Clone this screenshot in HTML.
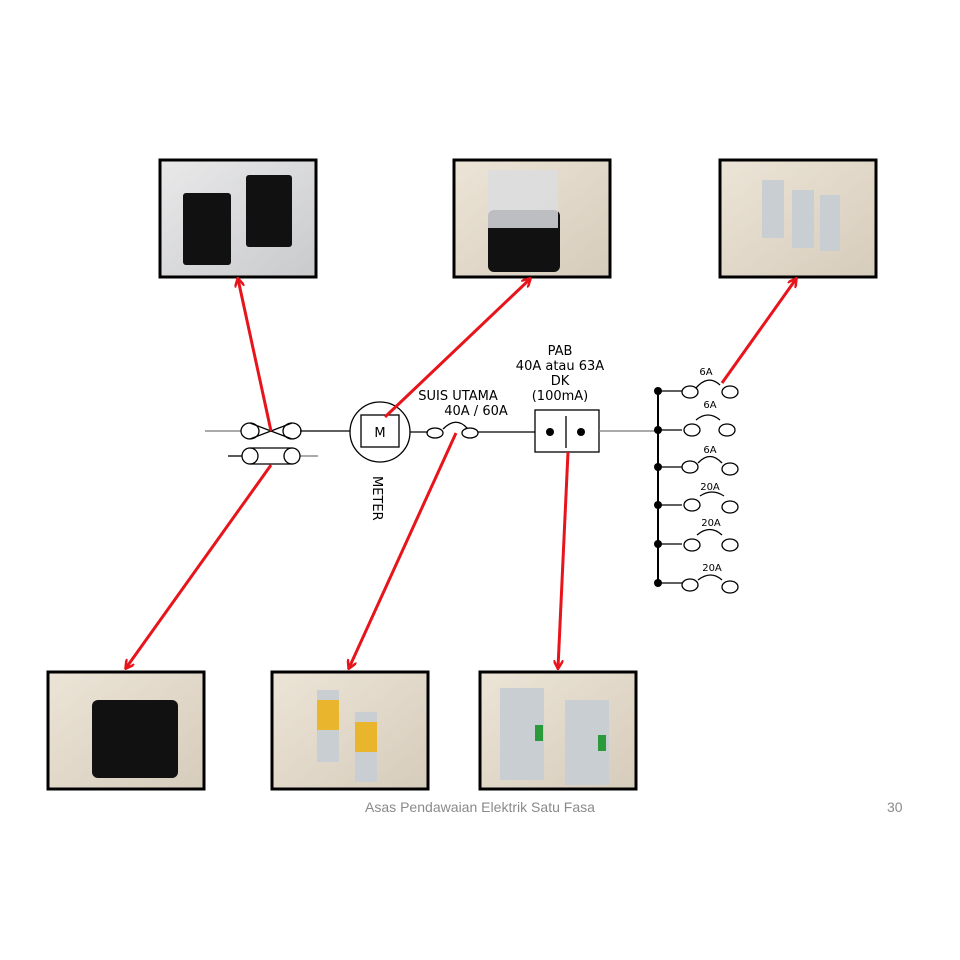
<!DOCTYPE html>
<html><head><meta charset="utf-8"><style>body{margin:0;background:#fff}svg{display:block}</style></head><body>
<svg width="960" height="960" viewBox="0 0 960 960" xmlns="http://www.w3.org/2000/svg" font-family="'DejaVu Sans','Liberation Sans',sans-serif">
<defs>
<marker id="ah" markerWidth="10" markerHeight="10" refX="8" refY="5" orient="auto" markerUnits="userSpaceOnUse"><path d="M0,0 L9,5 L0,10" fill="none" stroke="#e8141b" stroke-width="2.5"/></marker>
<linearGradient id="g1" x1="0" y1="0" x2="1" y2="1"><stop offset="0" stop-color="#e9e9ea"/><stop offset="1" stop-color="#c9cacc"/></linearGradient>
<linearGradient id="g2" x1="0" y1="0" x2="1" y2="1"><stop offset="0" stop-color="#ece4d6"/><stop offset="1" stop-color="#d6ccbc"/></linearGradient>
</defs>
<g stroke="#000" stroke-width="3">
<rect x="160" y="160" width="156" height="117" fill="url(#g1)"/>
<rect x="454" y="160" width="156" height="117" fill="url(#g2)"/>
<rect x="720" y="160" width="156" height="117" fill="url(#g2)"/>
<rect x="48" y="672" width="156" height="117" fill="url(#g2)"/>
<rect x="272" y="672" width="156" height="117" fill="url(#g2)"/>
<rect x="480" y="672" width="156" height="117" fill="url(#g2)"/>
</g>
<g fill="#111">
<rect x="183" y="193" width="48" height="72" rx="3"/><rect x="246" y="175" width="46" height="72" rx="3"/>
<rect x="488" y="210" width="72" height="62" rx="6"/>
<rect x="92" y="700" width="86" height="78" rx="6"/>
</g>
<rect x="488" y="170" width="70" height="58" fill="#dcdde0" opacity=".85"/>
<g fill="#c9ced2"><rect x="762" y="180" width="22" height="58"/><rect x="792" y="190" width="22" height="58"/><rect x="820" y="195" width="20" height="56"/>
<rect x="317" y="690" width="22" height="72"/><rect x="355" y="712" width="22" height="70"/>
<rect x="500" y="688" width="44" height="92"/><rect x="565" y="700" width="44" height="85"/></g>
<g fill="#e9b52d"><rect x="317" y="700" width="22" height="30"/><rect x="355" y="722" width="22" height="30"/></g>
<g fill="#2a9a3a"><rect x="535" y="725" width="8" height="16"/><rect x="598" y="735" width="8" height="16"/></g>
<g stroke="#000" stroke-width="1.3" fill="none">
<line x1="205" y1="431" x2="241" y2="431" stroke="#777"/>
<line x1="300" y1="431" x2="350" y2="431"/>
<ellipse cx="250" cy="431" rx="9" ry="8"/><ellipse cx="292" cy="431" rx="9" ry="8"/>
<path d="M250,423 L292,439 M250,439 L292,423"/>
<line x1="228" y1="456" x2="242" y2="456"/><line x1="300" y1="456" x2="318" y2="456" stroke="#777"/>
<ellipse cx="250" cy="456" rx="8" ry="8"/><ellipse cx="292" cy="456" rx="8" ry="8"/>
<line x1="250" y1="448" x2="292" y2="448"/><line x1="250" y1="464" x2="292" y2="464"/>
<circle cx="380" cy="432" r="30"/>
<rect x="361" y="415" width="38" height="32"/>
<line x1="410" y1="432" x2="428" y2="432"/>
<ellipse cx="435" cy="433" rx="8" ry="5"/><ellipse cx="470" cy="433" rx="8" ry="5"/>
<path d="M443,429 Q456,416 467,428"/>
<line x1="478" y1="432" x2="535" y2="432"/>
<rect x="535" y="410" width="64" height="42"/>
<line x1="566" y1="416" x2="566" y2="448"/>
<line x1="599" y1="431" x2="658" y2="431" stroke="#777"/>
<line x1="658" y1="390" x2="658" y2="583" stroke-width="2"/>
</g>
<circle cx="550" cy="432" r="4" fill="#000"/><circle cx="581" cy="432" r="4" fill="#000"/>
<g font-size="13" fill="#000" text-anchor="middle">
<text x="380" y="437">M</text>
<text x="560" y="355">PAB</text><text x="560" y="370">40A atau 63A</text><text x="560" y="385">DK</text><text x="560" y="400">(100mA)</text>
<text x="458" y="400">SUIS UTAMA</text><text x="476" y="415">40A / 60A</text>
<text transform="translate(373,476) rotate(90)" text-anchor="start">METER</text>
</g>
<g stroke="#000" stroke-width="1.3" fill="none">
<path d="M658,391 H682 M658,430 H682 M658,467 H682 M658,505 H682 M658,544 H682 M658,583 H682"/>
<ellipse cx="690" cy="392" rx="8" ry="6"/><ellipse cx="730" cy="392" rx="8" ry="6"/><path d="M696,388 Q708,374 720,385"/>
<ellipse cx="692" cy="430" rx="8" ry="6"/><ellipse cx="727" cy="430" rx="8" ry="6"/><path d="M696,420 Q708,410 720,420"/>
<ellipse cx="690" cy="467" rx="8" ry="6"/><ellipse cx="730" cy="469" rx="8" ry="6"/><path d="M698,463 Q710,450 722,463"/>
<ellipse cx="692" cy="505" rx="8" ry="6"/><ellipse cx="730" cy="507" rx="8" ry="6"/><path d="M700,496 Q712,488 724,496"/>
<ellipse cx="692" cy="545" rx="8" ry="6"/><ellipse cx="730" cy="545" rx="8" ry="6"/><path d="M697,535 Q710,524 722,535"/>
<ellipse cx="690" cy="585" rx="8" ry="6"/><ellipse cx="730" cy="587" rx="8" ry="6"/><path d="M698,580 Q711,570 722,580"/>
</g>
<g fill="#000"><circle cx="658" cy="391" r="4"/><circle cx="658" cy="430" r="4"/><circle cx="658" cy="467" r="4"/><circle cx="658" cy="505" r="4"/><circle cx="658" cy="544" r="4"/><circle cx="658" cy="583" r="4"/></g>
<g font-size="10" fill="#000" text-anchor="middle">
<text x="706" y="375">6A</text><text x="710" y="408">6A</text><text x="710" y="453">6A</text>
<text x="710" y="490">20A</text><text x="711" y="526">20A</text><text x="712" y="571">20A</text>
</g>
<g stroke="#e8141b" stroke-width="3" marker-end="url(#ah)">
<line x1="271" y1="431" x2="238" y2="279"/>
<line x1="385" y1="417" x2="530" y2="279"/>
<line x1="722" y1="383" x2="796" y2="279"/>
<line x1="271" y1="465" x2="126" y2="668"/>
<line x1="456" y1="433" x2="349" y2="668"/>
<line x1="568" y1="452" x2="558" y2="668"/>
</g>
<g font-family="'Liberation Sans',sans-serif" font-size="14" fill="#8a8a8a">
<text x="365" y="812" textLength="230" lengthAdjust="spacingAndGlyphs">Asas Pendawaian Elektrik Satu Fasa</text>
<text x="887" y="812">30</text>
</g>
</svg>
</body></html>
